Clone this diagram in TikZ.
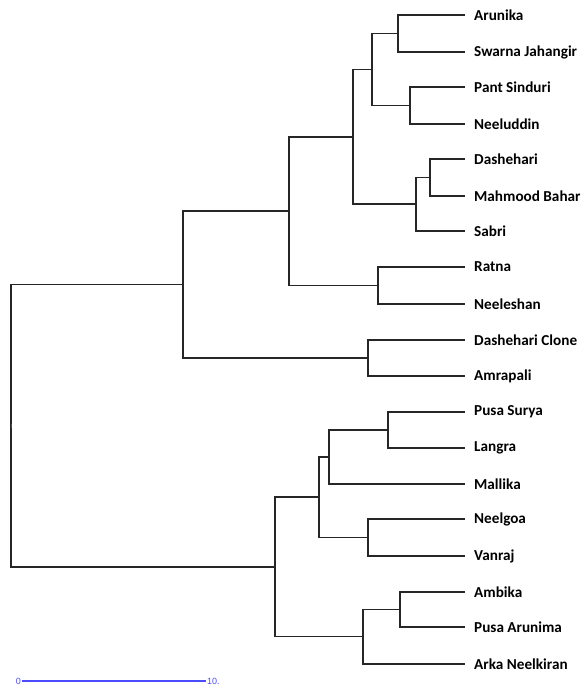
\documentclass[tikz,border=0pt]{standalone}
\usepackage{fontspec}
\setmainfont{Carlito}
\newfontfamily\barfont{Liberation Sans}
\usetikzlibrary{positioning}

\tikzset{
  branch/.style={draw=black!85,line width=1.3pt},
  leaf/.style={anchor=west,inner sep=0pt,font=\bfseries\fontsize{15.2}{16}\selectfont},
  scalebar/.style={draw=blue!70,line width=1.3pt},
  barlabel/.style={text=blue!70,inner sep=0pt,font=\barfont\fontsize{9}{10}\selectfont}
}

\begin{document}
\begin{tikzpicture}[x=1pt,y=-1pt]
  \useasboundingbox (0,0) rectangle (586,688);

  % leaves
  \foreach \id/\yy/\txt in {aru/15/Arunika, swa/52/Swarna Jahangir, pan/87/Pant Sinduri,
      nee/124/Neeluddin, das/159/Dashehari, mah/196/Mahmood Bahar, sab/231/Sabri,
      rat/267/Ratna, nls/304/Neeleshan, dcl/340/Dashehari Clone, amr/376/Amrapali,
      pus/412/Pusa Surya, lan/448/Langra, mal/484/Mallika, ngo/519/Neelgoa,
      van/556/Vanraj, amb/592/Ambika, par/627/Pusa Arunima, ark/664/Arka Neelkiran}
  {
    \coordinate (c-\id) at (465,\yy);
    \node[leaf,right=9pt of c-\id] (l-\id) {\txt};
  }

  % joins
  \coordinate (n1) at (398,33.5);
  \coordinate (n2) at (410,105.5);
  \coordinate (n3) at (372,69.5);
  \coordinate (n4) at (430,177.5);
  \coordinate (n5) at (416,204);
  \coordinate (n6) at (353,137);
  \coordinate (n7) at (378,285.5);
  \coordinate (n8) at (289,211);
  \coordinate (n9) at (368,358);
  \coordinate (n10) at (183,284.5);
  \coordinate (n11) at (388,430);
  \coordinate (n12) at (329,457);
  \coordinate (n13) at (368,537.5);
  \coordinate (n14) at (319,497);
  \coordinate (n15) at (400,609.5);
  \coordinate (n16) at (363,636.5);
  \coordinate (n17) at (275,567);
  \coordinate (root) at (11,426);

  \path[branch]
    (c-aru) -| (n1) |- (c-swa)
    (c-pan) -| (n2) |- (c-nee)
    (n1) -| (n3) |- (n2)
    (c-das) -| (n4) |- (c-mah)
    (n4) -| (n5) |- (c-sab)
    (n3) -| (n6) |- (n5)
    (c-rat) -| (n7) |- (c-nls)
    (n6) -| (n8) |- (n7)
    (c-dcl) -| (n9) |- (c-amr)
    (n8) -| (n10) |- (n9)
    (c-pus) -| (n11) |- (c-lan)
    (n11) -| (n12) |- (c-mal)
    (c-ngo) -| (n13) |- (c-van)
    (n12) -| (n14) |- (n13)
    (c-amb) -| (n15) |- (c-par)
    (n15) -| (n16) |- (c-ark)
    (n14) -| (n17) |- (n16)
    (n10) -| (root) |- (n17);
  \draw[red,line width=1pt] ([yshift=-2pt]root) -- ([yshift=2pt]root);

  % scale
  \coordinate (s0) at (22,681);
  \coordinate (s1) at (206,681);
  \draw[scalebar] (s0) -- (s1);
  \node[barlabel,left=1pt of s0] (t0) {0};
  \node[barlabel,right=1pt of s1] (t1) {10.};
\end{tikzpicture}
\end{document}
